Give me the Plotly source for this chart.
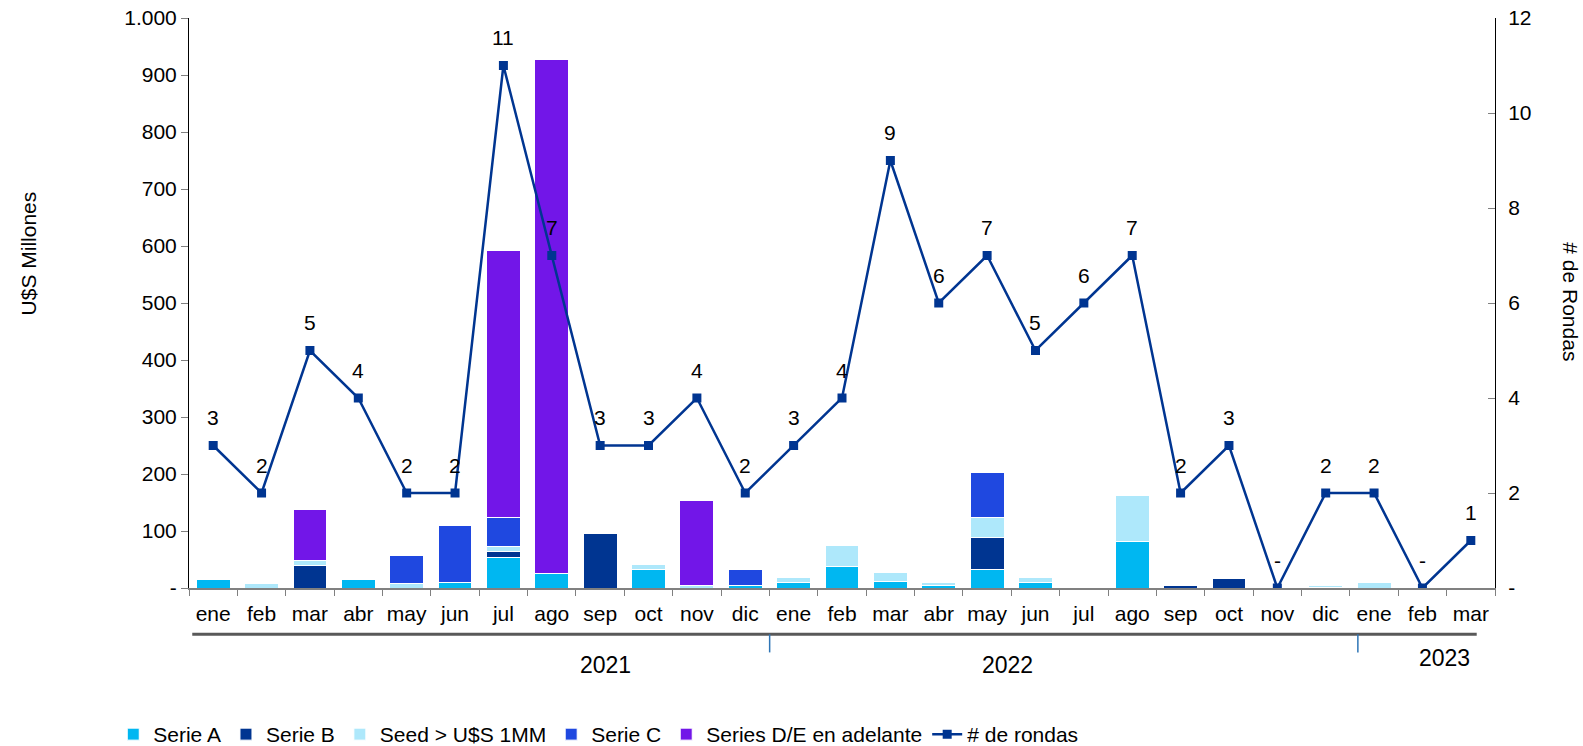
import plotly.graph_objects as go

months = ["ene","feb","mar","abr","may","jun","jul","ago","sep","oct","nov","dic",
          "ene","feb","mar","abr","may","jun","jul","ago","sep","oct","nov","dic",
          "ene","feb","mar"]
years = ["2021"]*12 + ["2022"]*12 + ["2023"]*3
keys = [f"{y}-{i}" for i, y in enumerate(years)]

serie_a   = [15,0,0,15,0,9,53,25,0,33,0,5, 9,38,12,4,33,9,0,81,0,0,0,0,0,0,0]
serie_b   = [0,0,39,0,0,0,11,0,96,0,0,0, 0,0,0,0,55,0,0,0,5,17,0,1,0,0,0]
seed      = [0,8,10,0,8,0,8,0,0,8,5,0, 10,37,15,5,36,10,0,82,0,0,0,4,10,0,1]
serie_c   = [0,0,0,0,49,101,51,0,0,0,0,28, 0,0,0,0,79,0,0,0,0,0,0,0,0,0,0]
series_de = [0,0,88,0,0,0,469,902,0,0,148,0, 0,0,0,0,0,0,0,0,0,0,0,0,0,0,0]
rondas    = [3,2,5,4,2,2,11,7,3,3,4,2, 3,4,9,6,7,5,6,7,2,3,0,2,2,0,1]

left_ticks = [0,100,200,300,400,500,600,700,800,900,1000]
left_text = ["-","100","200","300","400","500","600","700","800","900","1.000"]
right_ticks = [0,2,4,6,8,10,12]
right_text = ["-","2","4","6","8","10","12"]

FONT = "Liberation Sans, Arial, sans-serif"
FS = 21

def nz(v):
    return [x if x else None for x in v]

fig = go.Figure()
series = [
    ("Serie A", serie_a, "#00B7F1"),
    ("Serie B", serie_b, "#003591"),
    ("Seed > U$S 1MM", seed, "#AEE8FB"),
    ("Serie C", serie_c, "#1F48E0"),
    ("Series D/E en adelante", series_de, "#7216E8"),
]
for name, vals, col in series:
    fig.add_trace(go.Bar(x=keys, y=nz(vals), name=name, marker_color=col,
                         marker_line_color="white", marker_line_width=1))

fig.add_trace(go.Scatter(
    x=keys, y=rondas, name="# de rondas", yaxis="y2",
    mode="lines+markers",
    line=dict(color="#003591", width=2.5),
    marker=dict(symbol="square", size=9, color="#003591"),
))

for k, v in zip(keys, rondas):
    fig.add_annotation(x=k, y=v, xref="x", yref="y2", text=str(v) if v else "-",
                       showarrow=False, yshift=28, xanchor="center", yanchor="middle",
                       font=dict(size=FS, color="black"))

fig.update_layout(
    barmode="stack", bargap=0.3,
    width=1583, height=746,
    margin=dict(l=189, r=88, t=18, b=158, autoexpand=False),
    plot_bgcolor="white", paper_bgcolor="white",
    font=dict(family=FONT, size=FS, color="black"),
    showlegend=True,
    legend=dict(orientation="h", x=-0.058, xanchor="left", y=-0.257, yanchor="middle",
                font=dict(size=FS), traceorder="normal"),
    xaxis=dict(type="category", tickvals=keys, ticktext=months, tickson="boundaries",
               range=[-0.5, 26.5], tickangle=0,
               ticks="outside", ticklen=6, tickcolor="#808080",
               showline=True, linecolor="#808080", linewidth=2,
               showgrid=False, tickfont=dict(size=FS), ticklabelstandoff=6),
    yaxis=dict(range=[0,1000], tickvals=left_ticks, ticktext=left_text,
               ticks="outside", ticklen=7, tickcolor="#808080",
               showline=True, linecolor="black", linewidth=1,
               showgrid=False, zeroline=False, tickfont=dict(size=FS),
               ticklabeloverflow="allow"),
    yaxis2=dict(range=[0,12], overlaying="y", side="right",
                tickvals=right_ticks, ticktext=right_text,
                ticks="inside", ticklen=7, tickcolor="#808080",
                showline=True, linecolor="black", linewidth=1,
                showgrid=False, zeroline=False, tickfont=dict(size=FS),
                ticklabelstandoff=8, ticklabeloverflow="allow"),
)

# year grouping line and separators
fig.add_shape(type="line", xref="paper", yref="paper", x0=0.0025, x1=0.986,
              y0=-0.0813, y1=-0.0813, line=dict(color="#595959", width=3))
for xs in [0.4446, 0.895]:
    fig.add_shape(type="line", xref="paper", yref="paper", x0=xs, x1=xs,
                  y0=-0.0813, y1=-0.113, line=dict(color="#2E75B6", width=1.5))
for txt, xp, yp in [("2021", 0.319, -0.1357), ("2022", 0.627, -0.1357), ("2023", 0.961, -0.1234)]:
    fig.add_annotation(text=txt, xref="paper", yref="paper", x=xp, y=yp,
                       xanchor="center", yanchor="middle",
                       showarrow=False, font=dict(size=23))

fig.add_annotation(text="U$S Millones", xref="paper", yref="paper",
                   x=(28-189)/1306, y=0.587, textangle=-90, showarrow=False,
                   xanchor="center", yanchor="middle", font=dict(size=FS))
fig.add_annotation(text="# de Rondas", xref="paper", yref="paper",
                   x=(1571-189)/1306, y=0.503, textangle=90, showarrow=False,
                   xanchor="center", yanchor="middle", font=dict(size=FS))

fig.write_html("out.html", config={"displayModeBar": False},
               post_script="document.body.style.margin='0px';document.body.style.overflow='hidden';")
